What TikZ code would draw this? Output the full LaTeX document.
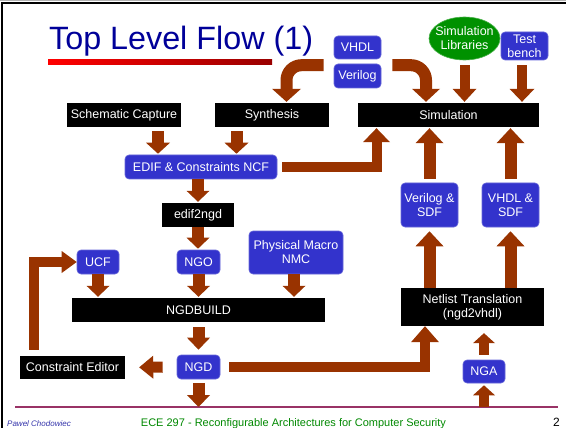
\documentclass[tikz,border=0pt]{standalone}
\usepackage{fontspec}
\setmainfont{Liberation Sans}
\usetikzlibrary{arrows.meta,shapes.geometric,calc}
\definecolor{boxblue}{RGB}{51,51,204}
\definecolor{arrbrown}{RGB}{153,51,0}
\definecolor{simgreen}{RGB}{0,145,0}
\definecolor{titleblue}{RGB}{0,0,153}
\definecolor{footgreen}{RGB}{0,136,0}
\definecolor{footpink}{RGB}{153,51,102}
\definecolor{darkred}{RGB}{153,0,0}
\definecolor{authblue}{RGB}{51,51,170}
\tikzset{
  txt/.style={font=\fontsize{12.5}{14}\selectfont},
  blk/.style={txt, fill=black, text=white, inner sep=0pt, align=center},
  blu/.style={txt, fill=boxblue, draw=boxblue!75!white, line width=0.6pt, rounded corners=4pt, text=white, inner sep=0pt, align=center},
  bar/.style n args={3}{draw=arrbrown, line width=#1pt, -{Triangle[width=#2pt,length=#3pt,line width=0pt]}},
}
\begin{document}
\begin{tikzpicture}[x=1pt,y=-1pt]
\useasboundingbox (0,0) rectangle (566,428);
% frame
\draw[gray!60, line width=1pt] (0,0.5) -- (566,0.5);
\draw[black, line width=2pt] (2,428) -- (2,3) -- (566,3);
% title
\node[anchor=base west, inner sep=0pt, text=titleblue, font=\fontsize{32.3}{36}\selectfont] (title) at (49,50) {Top Level Flow (1)};
\shade[left color=red, middle color=red!92!black, right color=darkred] (48,60) rectangle (272,64.5);
% black boxes
\node[blk, minimum width=114pt, minimum height=24pt] (sc) at (124,115) {Schematic Capture};
\node[blk, minimum width=114pt, minimum height=24pt] (syn) at (272,115) {Synthesis};
\node[blk, minimum width=181pt, minimum height=24pt] (sim) at (448.5,115) {Simulation};
\node[blk, minimum width=72pt, minimum height=24pt] (e2n) at (198,215) {edif2ngd};
\node[blk, minimum width=253pt, minimum height=24pt] (ngdb) at (198.5,310) {NGDBUILD};
\node[blk, minimum width=105pt, minimum height=23pt] (ce) at (72.5,367.5) {Constraint Editor};
\node[blk, minimum width=143pt, minimum height=38pt] (nt) at (472.5,307) {Netlist Translation\\(ngd2vhdl)};
% blue boxes
\node[blu, minimum width=47pt, minimum height=23pt] (vhdl) at (357.5,47.5) {VHDL};
\node[blu, minimum width=47pt, minimum height=24pt] (verilog) at (357.5,76) {Verilog};
\node[blu, minimum width=47pt, minimum height=28pt] (tb) at (524.5,46) {Test\\bench};
\node[blu, minimum width=152pt, minimum height=24pt] (edif) at (201,167) {EDIF \& Constraints NCF};
\node[blu, minimum width=42pt, minimum height=24pt] (ucf) at (98,262) {UCF};
\node[blu, minimum width=43pt, minimum height=24pt] (ngo) at (198.5,262) {NGO};
\node[blu, minimum width=94pt, minimum height=43pt] (pm) at (296,252.5) {Physical Macro\\NMC};
\node[blu, minimum width=57pt, minimum height=44pt] (vsdf) at (429.5,205) {Verilog \&\\SDF};
\node[blu, minimum width=57pt, minimum height=44pt] (hsdf) at (510.5,205) {VHDL \&\\SDF};
\node[blu, minimum width=43pt, minimum height=24pt] (ngd) at (198.5,367) {NGD};
\node[blu, minimum width=42pt, minimum height=23pt] (nga) at (484,371.5) {NGA};
% green ellipse
\node[ellipse, fill=simgreen, draw=simgreen!70!white, line width=0.6pt, minimum width=71pt, minimum height=43pt, inner sep=0pt] (simlib) at (464.5,38.5) {};
\node[txt, text=white, align=center, inner sep=0pt] (simlibtext) at (simlib.center) {Simulation\\Libraries};
% footer line
\coordinate (bl0) at (15,407);
\coordinate (bl1) at (558,407);
\draw[footpink, line width=1.3pt] (bl0) -- (bl1);
% arrows
\draw[bar={12}{24}{11}, shorten <=4pt, shorten >=1pt] (158,0 |- sc.south) -- (158,0 |- edif.north);
\draw[bar={12}{24}{11}, shorten <=4pt, shorten >=1pt] (236.5,0 |- syn.south) -- (236.5,0 |- edif.north);
\draw[bar={12}{29}{13}, rounded corners=15pt, shorten >=1pt] ($(verilog.north west)+(-10,1.5)$) -| ([xshift=14.5pt]syn.north);
\draw[bar={12}{28}{13}, rounded corners=15pt, shorten >=1pt] ($(verilog.north east)+(11,1.5)$) -| ([xshift=-22.5pt]sim.north);
\draw[bar={10}{24}{13}, shorten <=5pt, shorten >=1pt] (simlib.south) -- (simlib.south |- sim.north);
\draw[bar={10}{25}{13}, shorten <=5pt, shorten >=1pt] ([xshift=-2.5pt]tb.south) -- ([xshift=-2.5pt]tb.south |- sim.north);
\draw[bar={10}{27}{14}, shorten <=5pt, shorten >=1pt] (edif.east) -| ([xshift=-72pt]sim.south);
\draw[bar={12}{28}{15}, shorten <=4pt, shorten >=1pt] (vsdf.north) -- (vsdf.north |- sim.south);
\draw[bar={12}{28}{15}, shorten <=4pt, shorten >=1pt] (hsdf.north) -- (hsdf.north |- sim.south);
\draw[bar={12}{23}{11}, shorten >=1pt] (e2n.north |- edif.south) -- (e2n.north);
\draw[bar={12}{23}{11}, shorten >=1pt] (e2n.south) -- (e2n.south |- ngo.north);
\draw[bar={12}{28}{15}, shorten >=4pt] (vsdf.south |- nt.north) -- (vsdf.south);
\draw[bar={12}{28}{15}, shorten >=4pt] (hsdf.south |- nt.north) -- (hsdf.south);
\draw[bar={12}{23}{11}, shorten >=1pt] (ucf.south) -- (ucf.south |- ngdb.north);
\draw[bar={12}{23}{11}, shorten >=1pt] (ngo.south) -- (ngo.south |- ngdb.north);
\draw[bar={12}{23}{11}, shorten >=1pt] ([xshift=-2pt]pm.south) -- ([xshift=-2pt]pm.south |- ngdb.north);
\draw[bar={12}{23}{12}, shorten <=5pt, shorten >=5pt] (ngd.north |- ngdb.south) -- (ngd.north);
\draw[bar={11}{23}{14}, shorten <=14pt, shorten >=14pt] (ngd.west) -- (ce.east);
\draw[bar={10}{22}{15}, shorten <=6pt] ([xshift=-38.5pt]ce.north) |- (ucf.west);
\draw[bar={10}{28}{16}, shorten <=9pt] (ngd.east) -| ([xshift=-47.5pt]nt.south);
\draw[bar={10}{22}{10}, shorten <=5pt, shorten >=7pt] (nga.north) -- (nga.north |- nt.south);
\draw[bar={10}{22}{10}, shorten >=2pt] (nga.south |- bl1) -- (nga.south);
\draw[bar={12}{23}{12}, shorten <=4pt] (ngd.south) -- (ngd.south |- bl1);
% footer texts
\node[anchor=base west, inner sep=0pt, text=authblue, font=\fontsize{8}{9}\itshape] (auth) at (7,426) {Pawel Chodowiec};
\node[anchor=base, inner sep=0pt, text=footgreen, font=\fontsize{11}{13}\selectfont] (course) at (293.5,426) {ECE 297 - Reconfigurable Architectures for Computer Security};
\node[anchor=base east, inner sep=0pt, font=\fontsize{12}{14}\selectfont] (pagenum) at (560,426) {2};
\end{tikzpicture}
\end{document}
